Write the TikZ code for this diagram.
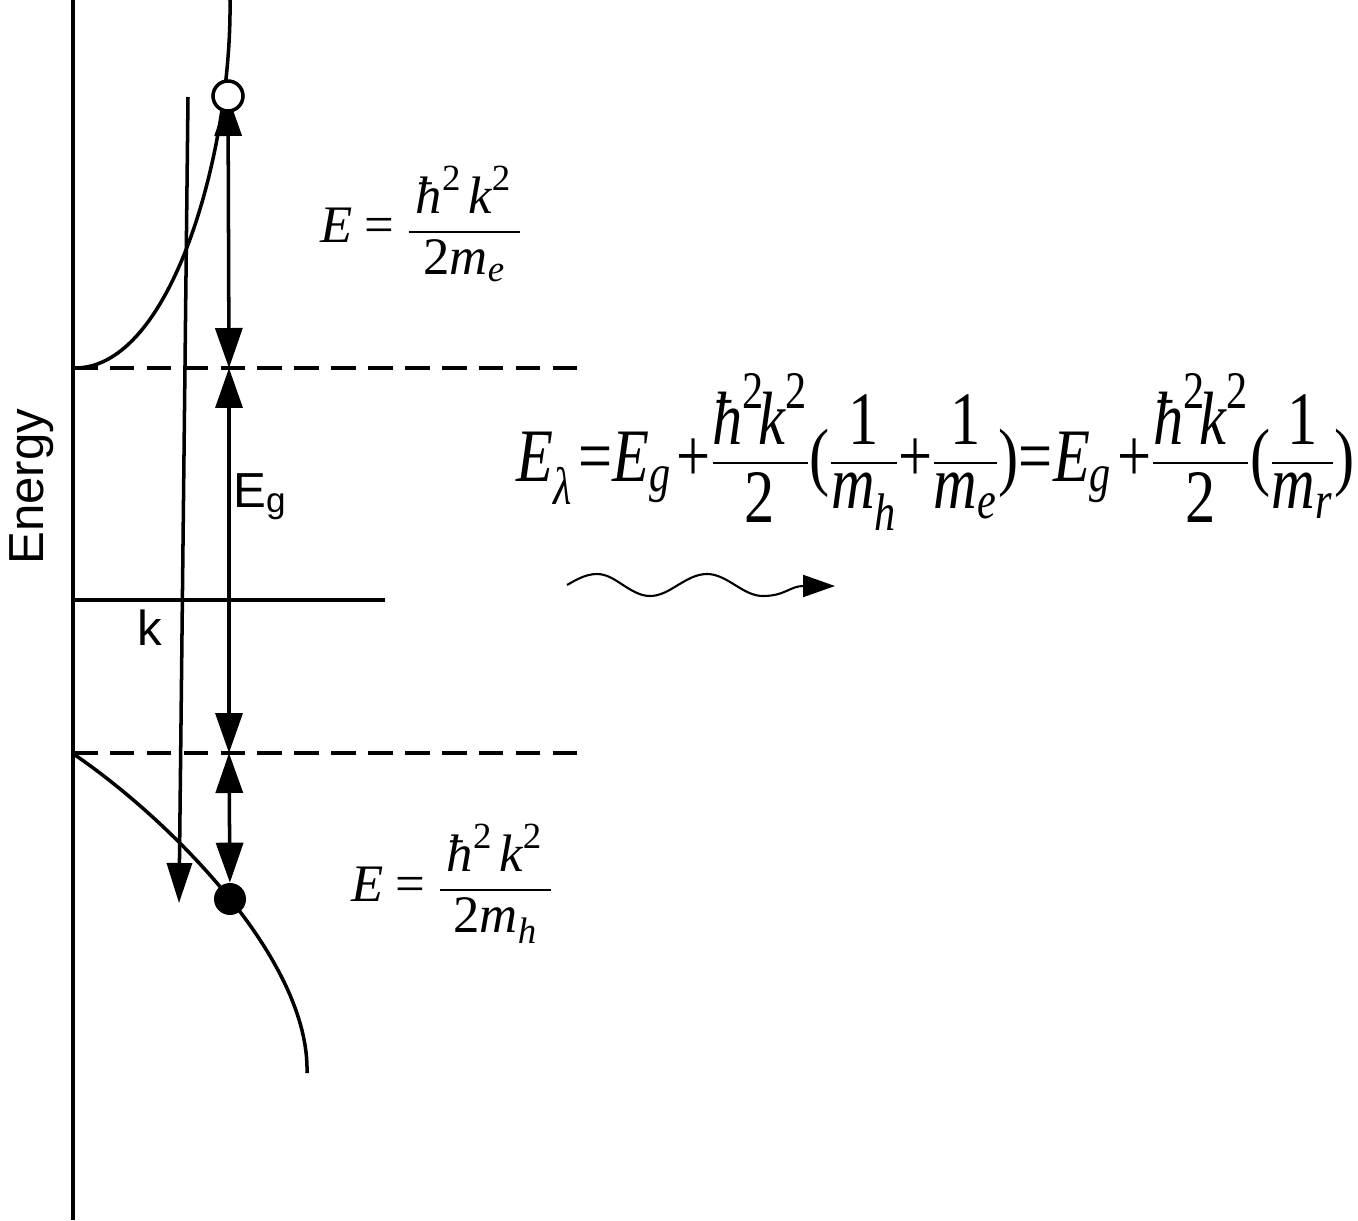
\documentclass[tikz,border=0pt]{standalone}
\usepackage{amsmath}
\usepackage{fontspec}
\setmainfont{Liberation Serif}
\newfontfamily\sansf{Liberation Sans}
\usetikzlibrary{arrows.meta}
\newcommand\vi[1]{\text{\itshape #1}}
\newcommand\vu[1]{\text{\upshape #1}}
\newcommand\fr[2]{\raisebox{4.5pt}{$\displaystyle\genfrac{}{}{1.6pt}{0}{#1}{#2}$}}
\newcommand\frs[2]{\genfrac{}{}{1.3pt}{0}{#1}{#2}}
\tikzset{
  ln/.style={line width=2pt},
  dashln/.style={line width=2pt, dash pattern=on 14pt off 7pt},
  dbl/.style={line width=2pt, {Triangle[length=0.8cm,width=0.54cm]}-{Triangle[length=0.8cm,width=0.54cm]}},
  karrow/.style={line width=2pt, -{Triangle[length=0.8cm,width=0.5cm]}},
  wave/.style={line width=1.2pt, -{Triangle[length=0.64cm,width=0.44cm]}},
  hole/.style={circle, draw, fill=white, line width=2pt, minimum size=0.6cm, inner sep=0pt},
  electron/.style={circle, fill=black, minimum size=0.64cm, inner sep=0pt},
  lab/.style={font=\sansf\fontsize{28}{30}\selectfont, inner sep=0pt},
  eqs/.style={font=\fontsize{30}{36}\selectfont, inner sep=0pt},
  eqb/.style={font=\fontsize{43}{50}\selectfont, inner sep=0pt}
}
\begin{document}
\begin{tikzpicture}[x=0.02cm, y=-0.02cm]
\useasboundingbox (0,0) rectangle (1358,1220);
% axes
\coordinate (axtop) at (73,0);
\coordinate (axbot) at (73,1220);
\coordinate (kaxl) at (73,600);
\coordinate (kaxr) at (385,600);
\draw[ln] (axtop) -- (axbot);
\draw[ln] (kaxl) -- (kaxr);
% dashed band edges
\coordinate (cbl) at (73,368);
\coordinate (cbr) at (580,368);
\coordinate (vbl) at (73,753);
\coordinate (vbr) at (580,753);
\draw[dashln] (cbl) -- (cbr);
\draw[dashln] (vbl) -- (vbr);
% bands
\draw[ln] (75,368) .. controls (172,368) and (232,150) .. (230,0);
\draw[ln] (75,755) .. controls (170,820) and (310,960) .. (307,1073);
% k arrow
\coordinate (ktop) at (188,97);
\coordinate (kbot) at (179,903);
\draw[karrow] (ktop) -- (kbot);
% vertical double arrows
\coordinate (hc) at (228,96);
\coordinate (c1) at (229,368);
\coordinate (v1) at (229,753);
\node[electron] (el) at (230,899) {};
\draw[dbl] (hc) -- (c1);
\draw[dbl] (c1) -- (v1);
\draw[dbl] (v1) -- (el);
\node[hole] (hole) at (hc) {};
% labels
\node[lab, rotate=90, anchor=base west] (energy) at (43,565) {Energy};
\node[lab, anchor=base west] (eg) at (233,507) {E\raisebox{-0.12em}{\fontsize{20}{20}\selectfont g}};
\node[lab, anchor=base west] (k) at (137,645) {k};
% equations
\node[eqs, anchor=west] (eqe) at (320,224) {$\vi{E}\mathrel{\vu{=}}\frs{\hspace{4pt}\vi{ħ}^{\vu{2}}\hspace{4pt}\vi{k}^{\vu{2}}\hspace{5pt}}{\vu{2}\vi{m}_{\vi{e}}}$};
\node[eqs, anchor=west] (eqh) at (351,884) {$\vi{E}\mathrel{\vu{=}}\frs{\hspace{4pt}\vi{ħ}^{\vu{2}}\hspace{4pt}\vi{k}^{\vu{2}}\hspace{5pt}}{\vu{2}\vi{m}_{\vi{h}}}$};
\node[eqb, anchor=west] (eqbig) at (516,452) {\scalebox{0.8}[1]{$\vi{E}_{\vi{λ}}\,\vu{=}\vi{E}_{\vi{g}}\,\vu{+}\fr{\vi{ħ}^{\vu{2}}\!\vi{k}^{\vu{2}}}{\vu{2}}\vu{(}\fr{\vu{1}}{\vi{m}_{\vi{h}}}\vu{+}\fr{\vu{1}}{\vi{m}_{\vi{e}}}\vu{)}\vu{=}\vi{E}_{\vi{g}}\,\vu{+}\fr{\vi{ħ}^{\vu{2}}\!\vi{k}^{\vu{2}}}{\vu{2}}\vu{(}\fr{\vu{1}}{\vi{m}_{\vi{r}}}\vu{)}$}};
% photon
\coordinate (w0) at (567,585);
\coordinate (w1) at (835,586);
\draw[wave] (w0) sin (597,574) cos (623,585) sin (650,596) cos (678,585) sin (707,574) cos (735,585) sin (763,596) .. controls (785,596) and (790,586) .. (w1);
\end{tikzpicture}
\end{document}
